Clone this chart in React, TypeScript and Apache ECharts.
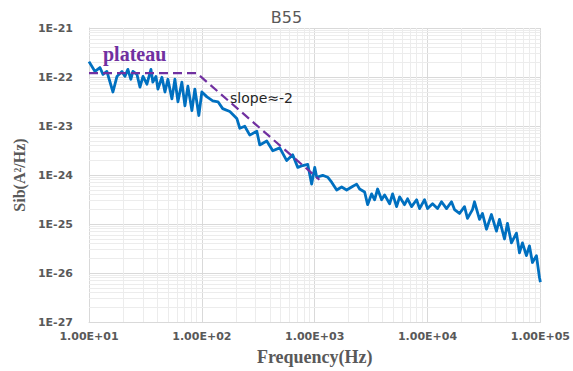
import React, { useEffect, useRef } from "react";
import * as echarts from "echarts";

const freqHz = [10, 11.3, 12.5, 13.3, 14.4, 16.3, 17.7, 19.6, 20.8, 22.1, 23.5, 24.5, 26.6, 28.3, 30.1, 32.6, 35.4, 36.8, 39.2, 40.8, 44.3, 47.1, 50.0, 54.3, 57.7, 61.4, 66.5, 70.8, 75.2, 81.6, 86.7, 94.0, 100, 111, 125, 139, 153, 177, 204, 217, 240, 266, 307, 326, 376, 425, 490, 565, 638, 708, 784, 868, 940, 1000, 1042, 1177, 1303, 1413, 1566, 1733, 1919, 2125, 2353, 2500, 2770, 2944, 3192, 3394, 3610, 3917, 4161, 4613, 4900, 5317, 5652, 6254, 6653, 7216, 7998, 8496, 9400, 10000, 11070, 12250, 13300, 14730, 16300, 17330, 19190, 21250, 22590, 25010, 26060, 28860, 30670, 33260, 36830, 40790, 43370, 48020, 51040, 55350, 61330, 65210, 69330, 75170, 79930, 84970, 92200, 98000, 100000];

const sib = [2.06e-22, 1.30e-22, 1.56e-22, 1.13e-22, 1.30e-22, 4.94e-23, 1.03e-22, 1.30e-22, 1.03e-22, 1.43e-22, 9.0e-23, 1.30e-22, 1.13e-22, 6.22e-23, 1.03e-22, 7.14e-23, 1.43e-22, 7.83e-23, 1.03e-22, 5.68e-23, 9.86e-23, 4.94e-23, 9.0e-23, 3.58e-23, 9.0e-23, 3.12e-23, 7.83e-23, 2.59e-23, 6.52e-23, 2.06e-23, 5.68e-23, 1.64e-23, 4.94e-23, 3.93e-23, 3.27e-23, 3.12e-23, 2.26e-23, 1.97e-23, 1.43e-23, 9.0e-24, 9.86e-24, 6.52e-24, 7.83e-24, 4.11e-24, 4.94e-24, 3.12e-24, 3.58e-24, 1.97e-24, 2.59e-24, 1.43e-24, 1.56e-24, 1.64e-24, 6.52e-25, 1.43e-24, 9.0e-25, 9.86e-25, 9.0e-25, 7.14e-25, 4.94e-25, 5.68e-25, 4.94e-25, 5.68e-25, 6.52e-25, 5.18e-25, 4.51e-25, 2.48e-25, 4.11e-25, 3.12e-25, 5.18e-25, 3.12e-25, 3.93e-25, 2.59e-25, 4.11e-25, 2.26e-25, 3.58e-25, 2.48e-25, 3.27e-25, 2.26e-25, 3.12e-25, 2.06e-25, 3.12e-25, 2.06e-25, 2.59e-25, 2.06e-25, 2.84e-25, 2.06e-25, 2.84e-25, 1.97e-25, 1.64e-25, 2.26e-25, 1.30e-25, 1.97e-25, 2.84e-25, 1.24e-25, 1.64e-25, 7.83e-26, 1.56e-25, 7.14e-26, 1.24e-25, 4.94e-26, 1.03e-25, 4.11e-26, 6.52e-26, 2.59e-26, 4.11e-26, 2.26e-26, 3.58e-26, 1.64e-26, 2.26e-26, 8.2e-27, 6.52e-27];

const fitFreq = [10, 90, 1100];
const fitSib = [1.2e-22, 1.2e-22, 8e-25];

const xDecades = [10, 100, 1000, 10000];
const yDecades = [1e-27, 1e-26, 1e-25, 1e-24, 1e-23, 1e-22];
const minorMultipliers = [2, 3, 4, 5, 6, 7, 8, 9];
const yMin = 1e-27;
const yMax = 1e-21;

const titleText = "B55";
const xName = "Frequency(Hz)";
const yName = "Sib(A\u00B2/Hz)";

// ECharts rounds values to 20 decimals, so the y axis works in units of 1e-27 A²/Hz
const Y_UNIT_EXP = 27;
const toUnit = (v: number) => v * Math.pow(10, Y_UNIT_EXP);

export default function App() {
  const ref = useRef<HTMLDivElement>(null);
  useEffect(() => {
    if (!ref.current) return;
    const chart = echarts.init(ref.current, null, { renderer: "svg" });
    const xMinor: any[] = [];
    xDecades.forEach((d) => minorMultipliers.forEach((m) => xMinor.push({ xAxis: d * m })));
    const yMinor: any[] = [];
    yDecades.forEach((d) => minorMultipliers.forEach((m) => yMinor.push({ yAxis: toUnit(d) * m })));
    const labelStyle = {
      color: "#595959",
      fontFamily: "DejaVu Sans",
      fontWeight: "bold" as const,
      fontSize: 11,
    };
    chart.setOption({
      animation: false,
      backgroundColor: "#ffffff",
      title: {
        text: titleText,
        left: "center",
        top: 4,
        textStyle: { color: "#595959", fontFamily: "DejaVu Sans", fontWeight: "normal", fontSize: 16 },
      },
      grid: { left: 89, right: 32, top: 28, bottom: 43, containLabel: false },
      xAxis: {
        type: "log",
        logBase: 10,
        min: 10,
        max: 100000,
        name: xName,
        nameLocation: "middle",
        nameGap: 26,
        nameTextStyle: { color: "#595959", fontFamily: "Liberation Serif", fontWeight: "bold", fontSize: 18 },
        axisLine: { show: true, lineStyle: { color: "#d9d9d9" } },
        axisTick: { show: false },
        axisLabel: {
          ...labelStyle,
          margin: 9,
          formatter: (v: number) => "1.00E+0" + Math.round(Math.log10(v)),
        },
        splitLine: { show: true, lineStyle: { color: "#d9d9d9", width: 1 } },
      },
      yAxis: {
        type: "log",
        logBase: 10,
        min: toUnit(yMin),
        max: toUnit(yMax),
        name: yName,
        nameLocation: "middle",
        nameGap: 60,
        nameRotate: 90,
        nameTextStyle: { color: "#595959", fontFamily: "Liberation Serif", fontWeight: "bold", fontSize: 16 },
        axisLine: { show: true, lineStyle: { color: "#d9d9d9" } },
        axisTick: { show: false },
        axisLabel: {
          ...labelStyle,
          margin: 16,
          formatter: (v: number) => "1E" + (Math.round(Math.log10(v)) - Y_UNIT_EXP),
        },
        splitLine: { show: true, lineStyle: { color: "#d9d9d9", width: 1 } },
      },
      series: [
        {
          type: "line",
          data: [],
          z: 1,
          silent: true,
          markLine: {
            z: 1,
            silent: true,
            symbol: ["none", "none"],
            label: { show: false },
            lineStyle: { color: "#ececec", width: 1, type: "solid" },
            emphasis: { disabled: true },
            data: [...xMinor, ...yMinor],
          },
        },
        {
          type: "line",
          data: freqHz.map((f, i) => [f, toUnit(sib[i])]),
          showSymbol: false,
          symbol: "none",
          z: 6,
          lineStyle: { color: "#0070C0", width: 2.8, join: "round" },
        },
        {
          type: "line",
          data: fitFreq.map((f, i) => [f, toUnit(fitSib[i])]),
          showSymbol: false,
          symbol: "none",
          z: 7,
          lineStyle: { color: "#7030A0", width: 2.2, type: [9, 5] },
        },
      ],
      graphic: [
        {
          type: "text",
          left: 103,
          top: 44,
          z: 10,
          style: { text: "plateau", fill: "#7030A0", font: "bold 20px 'Liberation Serif'" },
        },
        {
          type: "text",
          left: 230,
          top: 91,
          z: 10,
          style: { text: "slope\u2248-2", fill: "#262626", font: "14px 'DejaVu Sans'" },
        },
      ],
    });
    return () => chart.dispose();
  }, []);
  return <div ref={ref} style={{ position: "absolute", left: 0, top: 0, width: 573, height: 371 }} />;
}
